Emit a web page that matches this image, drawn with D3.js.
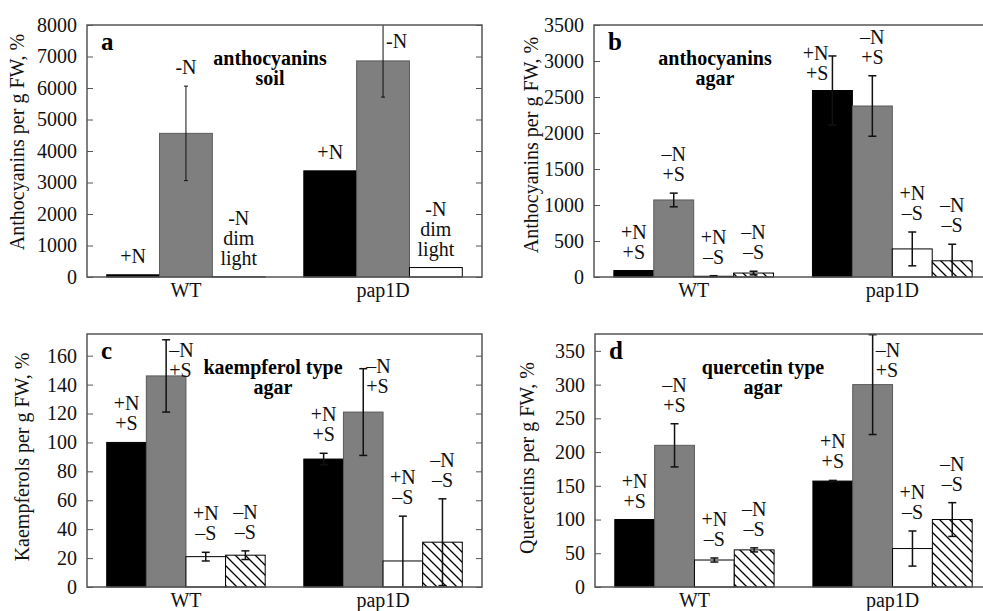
<!DOCTYPE html>
<html>
<head>
<meta charset="utf-8">
<script src="https://cdnjs.cloudflare.com/ajax/libs/d3/7.8.5/d3.min.js"></script>
<style>
  body { margin: 0; background: #fff; }
  svg { display: block; font-family: 'Liberation Serif', 'Times New Roman', serif; }
</style>
</head>
<body>
<svg></svg>
<script>
// categories and bar labels
var categories = ['WT', 'pap1D'];
var soilLabels = ['+N', '-N', '-N\ndim\nlight'];
var agarLabels = ['+N\n+S', '\u2013N\n+S', '+N\n\u2013S', '\u2013N\n\u2013S'];

// means and errors, [WT, pap1D], one value per treatment
var soilMean = [[70, 4560, 5], [3370, 6860, 300]];
var soilErr = [[0, 1500, 0], [0, 1150, 0]];
var agarMean = [[90, 1070, 10, 55], [2590, 2375, 390, 225]];
var agarErr = [[0, 95, 8, 25], [480, 420, 235, 230]];
var kaempMean = [[100, 146, 21, 22], [88.5, 121, 18, 31]];
var kaempErr = [[0, 25, 3, 3], [4, 30, 31, 30]];
var quercMean = [[100, 210, 40, 55], [157, 300, 57, 100]];
var quercErr = [[0, 32, 3, 3], [1, 74, 26, 25]];

// tick labels
var soilTicks = [0, 1000, 2000, 3000, 4000, 5000, 6000, 7000, 8000];
var agarTicks = [0, 500, 1000, 1500, 2000, 2500, 3000, 3500];
var kaempTicks = [0, 20, 40, 60, 80, 100, 120, 140, 160];
var quercTicks = [0, 50, 100, 150, 200, 250, 300, 350];

var panels = [
  { letter: 'a', mean: soilMean, err: soilErr, labels: soilLabels, ticks: soilTicks, max: 8000,
    title: ['anthocyanins', 'soil'], ylab: 'Anthocyanins per g FW, %',
    x0: 87, x1: 482, y0: 25, y1: 277, tx: 183, lx: 18, ly: 142, cap: 2, ew: 1 },
  { letter: 'b', mean: agarMean, err: agarErr, labels: agarLabels, ticks: agarTicks, max: 3500,
    title: ['anthocyanins', 'agar'], ylab: 'Anthocyanins per g FW, %',
    x0: 594, x1: 992, y0: 25, y1: 277, tx: 121, lx: 532, ly: 145, cap: 4, ew: 1.5 },
  { letter: 'c', mean: kaempMean, err: kaempErr, labels: agarLabels, ticks: kaempTicks, max: 175,
    title: ['kaempferol type', 'agar'], ylab: 'Kaempferols per g FW, %',
    x0: 87, x1: 482, y0: 334, y1: 587, tx: 186, lx: 23, ly: 457, cap: 4, ew: 1.5 },
  { letter: 'd', mean: quercMean, err: quercErr, labels: agarLabels, ticks: quercTicks, max: 375,
    title: ['quercetin type', 'agar'], ylab: 'Quercetins per g FW, %',
    x0: 595, x1: 992, y0: 334, y1: 587, tx: 168, lx: 528, ly: 458, cap: 4, ew: 1.5 }
];

var fills = ['#000', '#7f7f7f', '#fff', 'url(#hatch)'];
var strokes = ['#000', '#5a5a5a', '#000', '#000'];
var lineGap = 20;

var svg = d3.select('svg').attr('width', 983).attr('height', 611);

var pat = svg.append('defs').append('pattern')
  .attr('id', 'hatch').attr('patternUnits', 'userSpaceOnUse')
  .attr('width', 10).attr('height', 10);
pat.append('rect').attr('width', 10).attr('height', 10).attr('fill', '#fff');
pat.append('path').attr('d', 'M-5,5L5,15M0,0L10,10M5,-5L15,5')
  .attr('stroke', '#000').attr('stroke-width', 1.3);

panels.forEach(function (p) {
  var g = svg.append('g');
  var x = d3.scaleBand().domain(categories).range([p.x0, p.x1])
    .paddingInner(0.196).paddingOuter(0.1);
  var xs = d3.scaleBand().domain(d3.range(p.labels.length)).range([0, x.bandwidth()]);
  var y = d3.scaleLinear().domain([0, p.max]).range([p.y1, p.y0]).clamp(true);

  // axes, ticks pointing inward
  var left = g.append('g').attr('transform', 'translate(' + p.x0 + ',0)')
    .call(d3.axisLeft(y).tickValues(p.ticks).tickSize(-6).tickPadding(10).tickFormat(d3.format('d')));
  var right = g.append('g').attr('transform', 'translate(' + p.x1 + ',0)')
    .call(d3.axisRight(y).tickValues(p.ticks).tickSize(-6).tickFormat(''));
  var bottom = g.append('g').attr('transform', 'translate(0,' + p.y1 + ')')
    .call(d3.axisBottom(x).tickSize(0).tickPadding(6));
  [left, right, bottom].forEach(function (a) {
    a.attr('font-family', null).attr('font-size', 20);
    a.select('.domain').remove();
    a.selectAll('line').attr('stroke', '#555');
    a.selectAll('text').attr('fill', '#111');
  });

  // bars
  categories.forEach(function (c, ci) {
    p.mean[ci].forEach(function (v, si) {
      var bx = x(c) + xs(si);
      g.append('rect')
        .attr('x', bx).attr('y', y(v))
        .attr('width', xs.bandwidth()).attr('height', p.y1 - y(v))
        .attr('fill', fills[si]).attr('stroke', strokes[si]).attr('stroke-width', 1);
    });
  });

  // error bars
  categories.forEach(function (c, ci) {
    p.err[ci].forEach(function (e, si) {
      if (!e) return;
      var v = p.mean[ci][si];
      var cx = x(c) + xs(si) + xs.bandwidth() / 2;
      g.append('line').attr('x1', cx).attr('x2', cx)
        .attr('y1', y(v - e)).attr('y2', y(v + e))
        .attr('stroke', '#111').attr('stroke-width', p.ew);
      if (v + e <= p.max) {
        g.append('line').attr('x1', cx - p.cap).attr('x2', cx + p.cap)
          .attr('y1', y(v + e)).attr('y2', y(v + e))
          .attr('stroke', '#111').attr('stroke-width', p.ew);
      }
      if (v - e >= 0) {
        g.append('line').attr('x1', cx - p.cap).attr('x2', cx + p.cap)
          .attr('y1', y(v - e)).attr('y2', y(v - e))
          .attr('stroke', '#111').attr('stroke-width', p.ew);
      }
    });
  });

  // treatment labels above bars, moved beside the error bar when there is no room
  categories.forEach(function (c, ci) {
    p.mean[ci].forEach(function (v, si) {
      var lines = p.labels[si].split('\n');
      var topY = y(v + p.err[ci][si]);
      var cx = x(c) + xs(si) + xs.bandwidth() / 2;
      var first = topY - 12 - (lines.length - 1) * lineGap;
      var anchor = 'middle', tx = cx;
      if (first - 14 < p.y0) {
        first = Math.max(topY - 10, p.y0 + 9) + 14;
        anchor = si === 0 ? 'end' : 'start';
        tx = si === 0 ? cx - 4 : cx + 3;
      }
      var t = g.append('text').attr('text-anchor', anchor)
        .attr('font-size', 20).attr('fill', '#111');
      lines.forEach(function (s, li) {
        t.append('tspan').attr('x', tx).attr('y', first + li * lineGap).text(s);
      });
    });
  });

  // frame
  g.append('rect').attr('x', p.x0).attr('y', p.y0)
    .attr('width', p.x1 - p.x0).attr('height', p.y1 - p.y0)
    .attr('fill', 'none').attr('stroke', '#555').attr('stroke-width', 1.5);

  // panel letter and title
  g.append('text').attr('x', p.x0 + 14).attr('y', p.y0 + 25)
    .attr('font-size', 25).attr('font-weight', 'bold').text(p.letter);
  p.title.forEach(function (s, i) {
    g.append('text').attr('x', p.x0 + p.tx).attr('y', p.y0 + 40 + i * 20)
      .attr('text-anchor', 'middle').attr('font-size', 20).attr('font-weight', 'bold')
      .text(s);
  });

  // y label
  g.append('text')
    .attr('transform', 'translate(' + (p.lx + 6) + ',' + p.ly + ') rotate(-90)')
    .attr('text-anchor', 'middle').attr('font-size', 20).attr('fill', '#111')
    .text(p.ylab);
});
</script>
</body>
</html>
